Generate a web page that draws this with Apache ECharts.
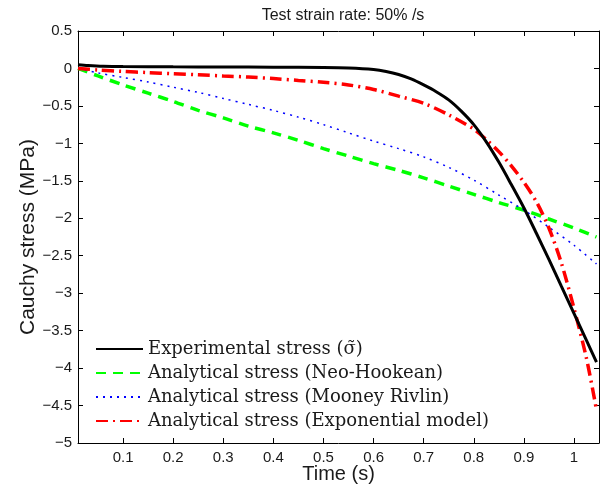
<!DOCTYPE html>
<html>
<head>
<meta charset="utf-8">
<script src="https://cdn.jsdelivr.net/npm/echarts@6/dist/echarts.min.js"></script>
<style>
html,body{margin:0;padding:0;background:#fff;}
#chart{width:608px;height:490px;}
</style>
</head>
<body>
<div id="chart"></div>
<script>
// ---- data ----
const seriesNames = [
  'Experimental stress (σ̃)',
  'Analytical stress (Neo-Hookean)',
  'Analytical stress (Mooney Rivlin)',
  'Analytical stress (Exponential model)'
];
const timeExp = [0.01,0.03,0.06,0.1,0.2,0.3,0.4,0.5,0.55,0.6,0.625,0.65,0.675,0.7,0.725,0.75,0.775,0.8,0.825,0.85,0.875,0.9,0.925,0.95,0.975,1.0,1.025,1.045];
const stressExp = [0.05,0.04,0.03,0.025,0.022,0.02,0.017,0.012,0.005,-0.015,-0.04,-0.08,-0.14,-0.22,-0.31,-0.42,-0.57,-0.75,-0.98,-1.25,-1.55,-1.86,-2.20,-2.55,-2.91,-3.27,-3.63,-3.92];
const timeModel = [0.01,0.05,0.1,0.15,0.2,0.25,0.3,0.35,0.4,0.45,0.5,0.55,0.6,0.65,0.7,0.75,0.8,0.85,0.9,0.95,1.0,1.045];
const stressNeoHookean = [0,-0.1,-0.22,-0.33,-0.44,-0.56,-0.66,-0.77,-0.86,-0.96,-1.07,-1.17,-1.27,-1.36,-1.46,-1.57,-1.68,-1.79,-1.89,-2.01,-2.13,-2.25];
const stressMooney = [0,-0.06,-0.12,-0.18,-0.25,-0.32,-0.40,-0.48,-0.56,-0.65,-0.75,-0.86,-0.97,-1.07,-1.18,-1.32,-1.49,-1.69,-1.89,-2.12,-2.36,-2.61];
const timeExpModel = [0.01,0.05,0.1,0.15,0.2,0.25,0.3,0.35,0.4,0.45,0.5,0.55,0.6,0.65,0.7,0.75,0.8,0.825,0.85,0.875,0.9,0.925,0.95,0.975,1.0,1.025,1.045];
const stressExpModel = [0,-0.02,-0.04,-0.055,-0.07,-0.085,-0.10,-0.115,-0.135,-0.16,-0.185,-0.22,-0.28,-0.37,-0.465,-0.62,-0.81,-0.95,-1.11,-1.30,-1.52,-1.78,-2.13,-2.60,-3.20,-3.87,-4.56];
const xTicks = [0.1,0.2,0.3,0.4,0.5,0.6,0.7,0.8,0.9,1.0];
const yMin = -5, yMax = 0.5, yStep = 0.5;
const xMin = 0.01, xMax = 1.05;
const titleText = 'Test strain rate: 50% /s';
const xName = 'Time (s)';
const yName = 'Cauchy stress (MPa)';

function pairs(xs, ys){ return xs.map((x,i)=>[x, ys[i]]); }
const fmt = v => String(Math.round(v*100)/100).replace('-', '\u2212');

const chart = echarts.init(document.getElementById('chart'), null, {renderer:'canvas'});
const axisColor = '#000';
const txt = '#1a1a1a';
const sans = 'Liberation Sans, Arial, sans-serif';

const option = {
  animation: false,
  backgroundColor: '#fff',
  title: {
    text: titleText, left: 338, top: 3, textAlign: 'center',
    textStyle: {fontFamily: sans, fontSize: 16, fontWeight: 'normal', color: txt}
  },
  grid: {left: 78, right: 9, top: 31, bottom: 47, containLabel: false, outerBoundsMode: 'none'},
  legend: {
    orient: 'vertical', left: 95, top: 339, padding: 0,
    itemWidth: 47, itemHeight: 10, itemGap: 4,
    itemStyle: {opacity: 0},
    textStyle: {fontFamily: 'DejaVu Serif, serif', fontSize: 18, color: txt, lineHeight: 20},
    data: seriesNames
  },
  xAxis: [{
    type: 'value', min: xMin, max: xMax, position: 'bottom',
    name: xName, nameLocation: 'middle', nameGap: 21, nameMoveOverlap: false,
    nameTextStyle: {fontFamily: sans, fontSize: 20, color: txt},
    axisLine: {show: true, onZero: false, lineStyle: {color: axisColor, width: 1}},
    axisTick: {show: true, inside: true, length: 5, customValues: xTicks, lineStyle: {color: axisColor}},
    axisLabel: {customValues: xTicks, formatter: fmt, fontFamily: sans, fontSize: 15, color: txt, margin: 7},
    splitLine: {show: false}
  },{
    type: 'value', min: xMin, max: xMax, position: 'top',
    axisLine: {show: true, onZero: false, lineStyle: {color: axisColor, width: 1}},
    axisTick: {show: true, inside: true, length: 5, customValues: xTicks, lineStyle: {color: axisColor}},
    axisLabel: {show: false},
    splitLine: {show: false}
  }],
  yAxis: [{
    type: 'value', min: yMin, max: yMax, interval: yStep, position: 'left',
    name: yName, nameLocation: 'middle', nameGap: 39, nameMoveOverlap: false,
    nameTextStyle: {fontFamily: sans, fontSize: 21, color: txt},
    axisLine: {show: true, onZero: false, lineStyle: {color: axisColor, width: 1}},
    axisTick: {show: true, inside: true, length: 5, lineStyle: {color: axisColor}},
    axisLabel: {formatter: fmt, fontFamily: sans, fontSize: 15, color: txt, margin: 6, showMinLabel: true, showMaxLabel: true},
    splitLine: {show: false}
  },{
    type: 'value', min: yMin, max: yMax, interval: yStep, position: 'right',
    axisLine: {show: true, onZero: false, lineStyle: {color: axisColor, width: 1}},
    axisTick: {show: true, inside: true, length: 5, lineStyle: {color: axisColor}},
    axisLabel: {show: false},
    splitLine: {show: false}
  }],
  series: [
    {name: seriesNames[0], type: 'line', data: pairs(timeExp, stressExp), showSymbol: false, symbol: 'none', smooth: 0.3,
     lineStyle: {color: '#000', width: 3, type: 'solid'}, itemStyle: {color: '#000'}, z: 5},
    {name: seriesNames[1], type: 'line', data: pairs(timeModel, stressNeoHookean), showSymbol: false, symbol: 'none', smooth: 0.3,
     lineStyle: {color: '#00ff00', width: 3.5, type: [10, 7]}, itemStyle: {color: '#00ff00'}, z: 3},
    {name: seriesNames[2], type: 'line', data: pairs(timeModel, stressMooney), showSymbol: false, symbol: 'none', smooth: 0.3,
     lineStyle: {color: '#0000ff', width: 1.5, type: [2, 5]}, itemStyle: {color: '#0000ff'}, z: 3},
    {name: seriesNames[3], type: 'line', data: pairs(timeExpModel, stressExpModel), showSymbol: false, symbol: 'none', smooth: 0.3,
     lineStyle: {color: '#ff0000', width: 3.5, type: [12, 5, 2, 5]}, itemStyle: {color: '#ff0000'}, z: 4}
  ]
};
chart.setOption(option);
</script>
</body>
</html>
